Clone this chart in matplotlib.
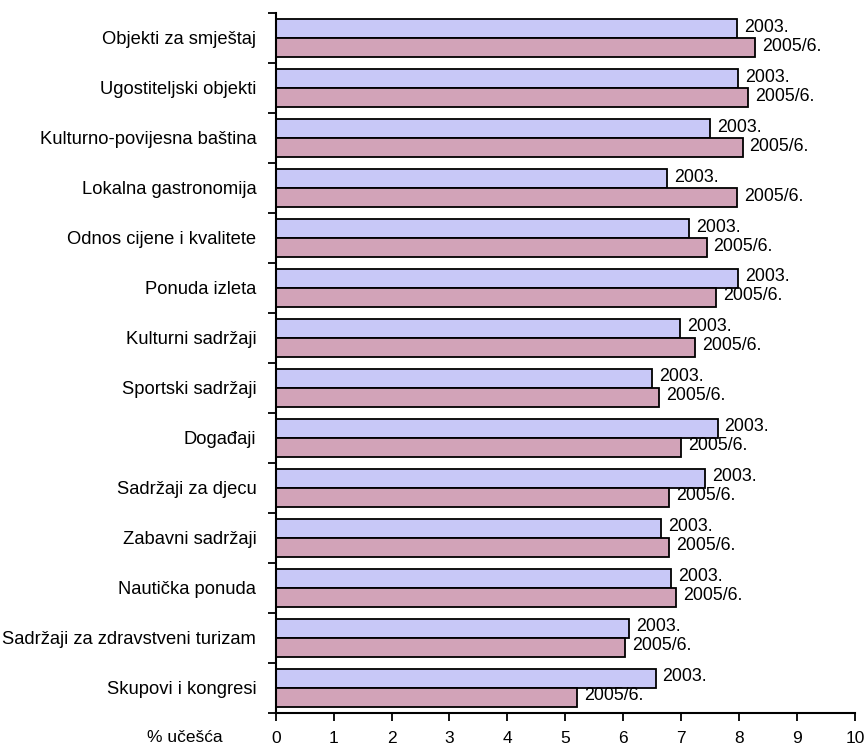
import matplotlib
matplotlib.use("Agg")
import matplotlib.pyplot as plt
import numpy as np

plt.rcParams['font.family'] = ['Liberation Sans', 'DejaVu Sans']

categories = [
    "Objekti za smještaj",
    "Ugostiteljski objekti",
    "Kulturno-povijesna baština",
    "Lokalna gastronomija",
    "Odnos cijene i kvalitete",
    "Ponuda izleta",
    "Kulturni sadržaji",
    "Sportski sadržaji",
    "Događaji",
    "Sadržaji za djecu",
    "Zabavni sadržaji",
    "Nautička ponuda",
    "Sadržaji za zdravstveni turizam",
    "Skupovi i kongresi",
]
values_2003 = [7.96, 7.99, 7.50, 6.76, 7.14, 7.99, 6.98, 6.50, 7.63, 7.41, 6.66, 6.82, 6.10, 6.56]
values_2005 = [8.28, 8.15, 8.06, 7.96, 7.44, 7.60, 7.24, 6.62, 7.00, 6.79, 6.79, 6.92, 6.03, 5.20]
series_labels = ["2003.", "2005/6."]
x_ticks = list(range(0, 11))

fig = plt.figure(figsize=(8.67, 7.5), dpi=100)
ax = fig.add_axes([0.318, 0.0497, 0.986 - 0.318, 0.9827 - 0.0497])

y = np.arange(len(categories))
h = 0.38
fs = 12.5

bars_a = ax.barh(y - h / 2, values_2003, height=h, color="#c8c8f7",
                 edgecolor="black", linewidth=1.3)
bars_b = ax.barh(y + h / 2, values_2005, height=h, color="#d2a3b8",
                 edgecolor="black", linewidth=1.3)

for bars, vals, lab in ((bars_a, values_2003, series_labels[0]),
                        (bars_b, values_2005, series_labels[1])):
    for rect, v in zip(bars, vals):
        cy = rect.get_y() + rect.get_height() / 2
        ax.annotate(lab, xy=(v, cy), xytext=(5, 1), textcoords="offset points",
                    ha="left", va="center", fontsize=12.8, color="black",
                    annotation_clip=False)

ax.set_xlim(0, 10)
ax.set_ylim(len(categories) - 0.5, -0.5)

ax.set_yticks(y)
ax.set_yticklabels(categories, fontsize=13.2)
ax.tick_params(axis="y", which="major", length=0, pad=14)
ax.set_yticks(np.arange(-0.5, len(categories), 1.0), minor=True)
ax.tick_params(axis="y", which="minor", length=6, width=1.3, direction="out")

ax.set_xticks(x_ticks)
ax.set_xticklabels([str(t) for t in x_ticks], fontsize=fs)
ax.tick_params(axis="x", which="major", length=6, width=1.3, direction="out", pad=7)

for side in ("top", "right"):
    ax.spines[side].set_visible(False)
for side in ("left", "bottom"):
    ax.spines[side].set_linewidth(1.5)
    ax.spines[side].set_color("black")

fig.text(185 / 867, 1 - 737 / 750, "% učešća", ha="center", va="center", fontsize=fs)

fig.savefig("out.png", dpi=100)
